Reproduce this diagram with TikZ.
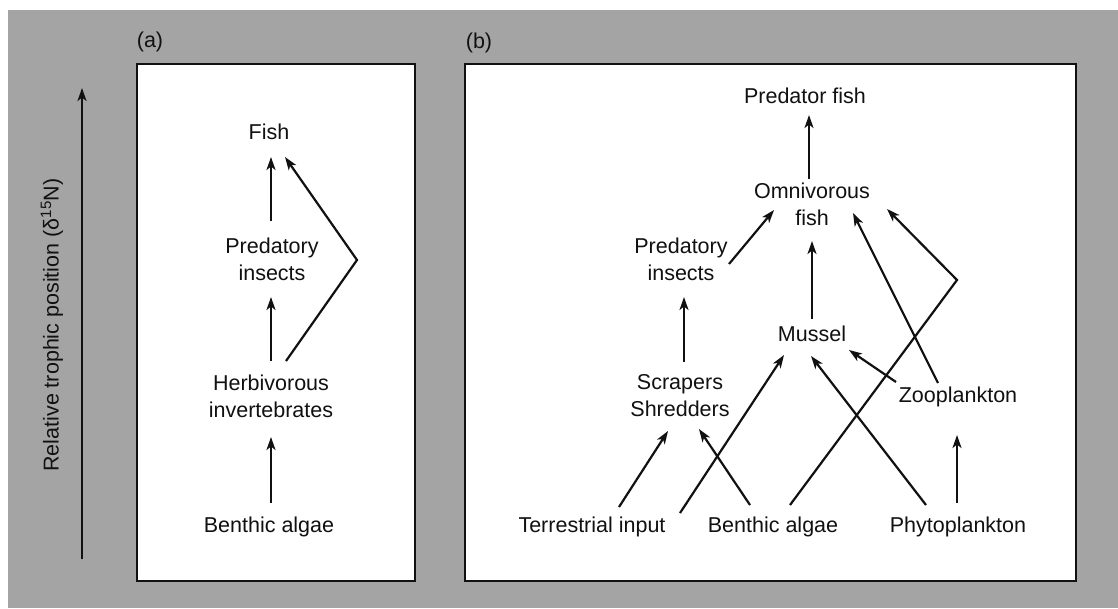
\documentclass[tikz,border=0pt]{standalone}
\usepackage{fontspec}
\setmainfont{Liberation Sans}
\usetikzlibrary{arrows.meta}
\definecolor{bggray}{HTML}{A4A4A4}
\definecolor{inkc}{HTML}{111111}
\tikzset{
  lbl/.style={inner sep=0pt, align=center, font=\fontsize{21.5}{27}\selectfont, text=inkc},
  link/.style={line width=2.2pt, draw=inkc, -{Stealth[length=13pt,width=9pt,inset=3.5pt]}},
  panel/.style={line width=2.2pt, draw=inkc, fill=white}
}
\begin{document}
\begin{tikzpicture}[x=1pt,y=-1pt]
\useasboundingbox (0,0) rectangle (1118,608);
\fill[white] (0,0) rectangle (1118,608);
\fill[bggray] (8,10) rectangle (1118,608);
% panels
\draw[panel] (137,64) rectangle (415,581);
\draw[panel] (465,64) rectangle (1076,581);
\node[lbl] (la) at (150,42) {(a)};
\node[lbl] (lb) at (479,43) {(b)};
% axis
\coordinate (axB) at (82,559);
\coordinate (axT) at (82,88);
\draw[link] (axB) -- (axT);
\node[lbl, rotate=90] (axl) at (52,325) {Relative trophic position (δ\textsuperscript{15}N)};
% panel (a)
\node[lbl] (fishA) at (269,132) {Fish};
\node[lbl] (predA) at (272,259) {Predatory\\insects};
\node[lbl] (herbA) at (271,396) {Herbivorous\\invertebrates};
\node[lbl] (benthA) at (269,527) {Benthic algae};
\coordinate (cA) at (357,260);
\draw[link] ([shift={(2,-24)}]benthA.center) -- ([shift={(0,41)}]herbA.center);
\draw[link] ([shift={(0,-35)}]herbA.center) -- ([shift={(-1,38)}]predA.center);
\draw[link] ([shift={(-1,-38)}]predA.center) -- ([shift={(2,25)}]fishA.center);
\draw[link] ([shift={(15,-35)}]herbA.center) -- (cA) -- ([shift={(16,25)}]fishA.center);
% panel (b)
\node[lbl] (pfish) at (805,96) {Predator fish};
\node[lbl] (ofish) at (812,204) {Omnivorous\\fish};
\node[lbl] (pins) at (681,259) {Predatory\\insects};
\node[lbl] (mussel) at (812,334) {Mussel};
\node[lbl] (scrap) at (680,396) {Scrapers\\Shredders};
\node[lbl] (zoo) at (958,397) {Zooplankton};
\node[lbl] (terr) at (592,527) {Terrestrial input};
\node[lbl] (bentB) at (773,527) {Benthic algae};
\node[lbl] (phyto) at (958,527) {Phytoplankton};
\coordinate (cB) at (957,280);
\draw[link] ([shift={(-3,-25)}]ofish.center) -- ([shift={(4,19)}]pfish.center);
\draw[link] ([shift={(48,5)}]pins.center) -- ([shift={(-38,6)}]ofish.center);
\draw[link] ([shift={(0,-15)}]mussel.center) -- ([shift={(0,37)}]ofish.center);
\draw[link] ([shift={(-20,-14)}]zoo.center) -- ([shift={(41,9)}]ofish.center);
\draw[link] ([shift={(17,-22)}]bentB.center) -- (cB) -- ([shift={(75,5)}]ofish.center);
\draw[link] ([shift={(4,-34)}]scrap.center) -- ([shift={(3,38)}]pins.center);
\draw[link] ([shift={(-62,-15)}]zoo.center) -- ([shift={(37,16)}]mussel.center);
\draw[link] ([shift={(88,-14)}]terr.center) -- ([shift={(-28,21)}]mussel.center);
\draw[link] ([shift={(-32,-22)}]phyto.center) -- ([shift={(-1,22)}]mussel.center);
\draw[link] ([shift={(27,-20)}]terr.center) -- ([shift={(-12,35)}]scrap.center);
\draw[link] ([shift={(-23,-22)}]bentB.center) -- ([shift={(19,33)}]scrap.center);
\draw[link] ([shift={(-1,-24)}]phyto.center) -- ([shift={(-1,38)}]zoo.center);
\end{tikzpicture}
\end{document}
